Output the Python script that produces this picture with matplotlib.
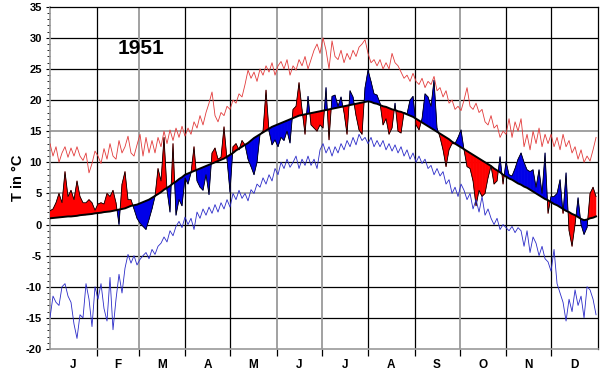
import numpy as np
import matplotlib
matplotlib.use("Agg")
import matplotlib.pyplot as plt
from matplotlib.collections import PolyCollection

# ---------------- data (values every 2nd day, day 0 = 1 Jan) ----------------
year_label = "1951"
month_labels = ["J", "F", "M", "A", "M", "J", "J", "A", "S", "O", "N", "D"]
month_starts = [0, 31, 59, 90, 120, 151, 181, 212, 243, 273, 304, 334, 365]
sample_step = 2

# long-term mean (black line)
mean_t = [
    1.0, 1.05, 1.1, 1.15, 1.2, 1.25, 1.3, 1.3, 1.35, 1.4, 1.5, 1.55, 1.6, 1.65, 1.7, 1.8,
    1.85, 1.9, 2.0, 2.05, 2.1, 2.2, 2.3, 2.4, 2.5, 2.6, 2.8, 3.0, 3.1, 3.2,
    3.4, 3.6, 3.8, 4.0, 4.3, 4.6, 4.9, 5.2, 5.6, 5.9, 6.2, 6.6, 6.9, 7.3, 7.6, 8.0,
    8.2, 8.4, 8.6, 8.8, 9.0, 9.2, 9.4, 9.6, 9.8, 10.0, 10.2, 10.4, 10.6, 10.9, 11.2,
    11.5, 11.9, 12.2, 12.5, 12.8, 13.1, 13.5, 13.9, 14.2, 14.5, 14.8, 15.1, 15.4, 15.7, 15.9,
    16.1, 16.3, 16.5, 16.7, 16.9, 17.1, 17.3, 17.5, 17.6, 17.7, 17.8, 17.9, 18.0, 18.1, 18.2,
    18.3, 18.4, 18.5, 18.6, 18.7, 18.8, 18.9, 19.0, 19.1, 19.2, 19.3, 19.4, 19.5, 19.6, 19.7, 19.8,
    19.7, 19.5, 19.4, 19.2, 19.0, 18.9, 18.7, 18.5, 18.4, 18.2, 18.1, 17.9, 17.7, 17.5, 17.3,
    17.0, 16.7, 16.4, 16.1, 15.8, 15.5, 15.2, 14.9, 14.6, 14.3, 14.0, 13.7, 13.3, 13.0, 12.7,
    12.4, 12.1, 11.8, 11.5, 11.2, 10.9, 10.6, 10.3, 10.0, 9.7, 9.4, 9.0, 8.7, 8.4, 8.0, 7.7,
    7.4, 7.2, 6.9, 6.6, 6.4, 6.1, 5.9, 5.6, 5.3, 5.0, 4.7, 4.4, 4.1, 3.9, 3.6,
    3.3, 3.1, 2.8, 2.5, 2.2, 2.0, 1.7, 1.5, 1.2, 0.9, 0.7, 0.8, 1.0, 1.1, 1.3,
]

# daily mean temperature of the year
actual_t = [
    2.2, 2.5, 3.5, 5.0, 3.5, 8.5, 4.5, 5.5, 4.0, 7.0, 4.5, 3.5, 3.5, 4.0, 3.5, 2.3,
    3.3, 3.5, 3.3, 5.0, 4.5, 5.5, 3.5, 0.0, 6.5, 8.5, 4.0, 4.0, 2.5, 1.0,
    0.2, -0.3, -0.8, 0.8, 2.5, 4.5, 9.0, 7.0, 14.0, 5.5, 2.0, 13.0, 1.5, 4.0, 3.0, 7.5,
    6.5, 8.3, 12.5, 7.0, 6.0, 5.5, 8.0, 4.8, 11.5, 12.3, 10.5, 10.8, 15.7, 10.5, 5.2,
    12.5, 13.0, 12.0, 13.5, 12.8, 10.5, 9.3, 8.0, 10.0, 14.5, 15.0, 21.6, 15.0, 12.8, 13.6,
    12.5, 14.0, 13.5, 15.0, 13.1, 18.5, 19.0, 22.8, 18.5, 14.5, 20.6, 16.0, 15.5, 15.0, 16.0,
    15.5, 22.0, 13.6, 20.6, 20.8, 19.0, 20.5, 18.0, 14.5, 21.5, 20.5, 17.5, 15.2, 14.5, 22.0, 24.8,
    23.0, 21.0, 20.8, 19.5, 16.0, 17.0, 14.5, 15.5, 19.5, 15.0, 14.7, 18.0, 17.8, 20.0, 20.6,
    16.0, 15.2, 17.0, 21.0, 20.5, 19.0, 23.2, 15.5, 14.0, 12.0, 9.3, 12.0, 13.0, 13.0, 14.0,
    15.2, 12.0, 9.3, 9.0, 7.0, 3.0, 5.5, 4.5, 5.0, 7.5, 9.4, 6.5, 7.0, 10.9, 6.5, 10.1,
    8.0, 7.8, 9.0, 10.5, 11.5, 10.0, 8.8, 8.5, 8.8, 6.0, 8.8, 5.0, 11.5, 1.8, 4.5,
    4.5, 5.0, 7.2, 1.8, 8.3, -1.0, -3.5, 0.0, 4.3, 0.0, -1.6, -0.5, 5.0, 6.0, 4.5,
]

# absolute maxima (thin red line)
max_t = [
    13.0, 11.0, 12.5, 10.0, 11.5, 12.5, 10.8, 12.3, 11.0, 12.5, 11.0, 10.3, 11.5, 8.3, 9.8, 11.8,
    11.0, 9.8, 12.2, 10.5, 13.0, 11.0, 10.5, 13.5, 11.5, 12.5, 14.2, 11.5, 11.0, 12.8,
    14.5, 11.0, 14.0, 11.5, 13.5, 11.5, 14.0, 12.5, 15.0, 13.0, 15.2, 13.5, 15.5, 14.0, 15.8, 14.2,
    15.5, 14.5, 16.5, 15.5, 17.5, 16.0, 18.0, 19.5, 21.3, 17.5, 16.5, 18.0, 17.5, 19.0, 18.5,
    20.0, 19.5, 21.0, 20.5, 22.5, 24.8, 23.5, 24.5, 23.0, 25.0, 24.0, 25.5, 24.5, 26.0, 24.0,
    25.5, 26.2, 25.0, 26.5, 24.0, 25.5, 24.8, 26.5, 25.5, 27.0, 25.0, 26.5, 28.0, 29.0, 27.5,
    30.0, 28.0, 25.0, 29.5, 27.0, 26.5, 28.0, 26.0, 27.5, 26.5, 28.0, 27.0, 28.5, 29.0, 29.7, 27.5,
    26.0, 26.5, 25.5, 26.5, 25.0, 26.0, 25.0, 27.5, 26.0, 25.5, 24.5, 23.5, 24.0, 23.0, 24.3,
    23.0, 22.5, 23.5, 22.0, 23.0, 22.5, 23.8, 21.5, 22.0, 20.5, 21.5, 19.5, 20.0, 18.5, 19.0,
    18.3, 20.0, 22.0, 19.0, 18.5, 19.5, 18.0, 18.5, 16.5, 16.0, 17.5, 15.5, 16.0, 14.0, 15.0, 14.5,
    17.0, 14.0, 16.5, 15.0, 17.0, 12.5, 14.5, 12.0, 15.0, 13.0, 15.5, 12.5, 14.5, 13.0, 14.5,
    12.5, 14.0, 12.0, 14.5, 12.5, 13.5, 11.5, 12.5, 10.5, 12.0, 10.0, 11.0, 10.2, 12.0, 14.0,
]

# absolute minima (thin blue line)
min_t = [
    -15.0, -11.5, -12.5, -13.0, -10.0, -9.5, -11.5, -12.5, -16.0, -18.3, -14.5, -15.0, -9.5, -12.0, -16.4, -10.0,
    -12.0, -9.5, -13.5, -15.5, -8.5, -16.9, -12.0, -8.0, -11.0, -7.0, -4.8, -6.2, -5.0, -6.5,
    -5.6, -5.0, -4.5, -5.5, -4.0, -4.8, -3.5, -3.0, -2.0, -2.8, -1.0, -1.8, -0.3, 0.5, -0.5, 1.2,
    0.0, 1.0, -0.8, 2.0, 1.0, 2.5, 1.5, 2.8, 1.8, 3.2, 2.0, 3.5, 2.5, 4.0, 2.8,
    5.0, 4.0, 5.5, 4.2, 5.0, 3.8, 5.6, 5.0, 6.5, 6.0, 7.5, 6.5, 8.0, 7.0, 9.0,
    8.0, 10.0, 9.0, 10.5, 9.2, 10.0, 11.0, 9.0, 10.5, 9.5, 11.0, 9.5, 10.5, 9.0, 12.0,
    13.0, 11.5, 12.5, 11.0, 12.5, 11.5, 13.0, 12.0, 13.5, 12.5, 14.0, 12.8, 14.5, 13.5, 14.0, 13.0,
    14.0, 12.5, 13.5, 12.5, 13.5, 12.0, 13.0, 11.8, 12.8, 11.5, 12.5, 11.0, 12.0, 10.5, 11.5,
    10.0, 11.0, 9.8, 10.5, 9.0, 9.5, 8.0, 9.0, 7.8, 8.5, 6.5, 7.2, 5.0, 6.0, 4.5,
    6.5, 5.5, 4.0, 5.0, 2.5, 4.0, 2.0, 4.5, 1.5, 2.5, 1.0, 0.0, 1.0, -0.8, 0.0, -0.5,
    -1.0, -0.3, -1.3, -0.5, -1.0, -3.5, -1.0, -4.5, -2.0, -3.0, -5.0, -3.5, -5.5, -6.0, -7.5,
    -4.0, -9.5, -11.0, -12.5, -15.5, -12.0, -14.0, -10.5, -13.0, -11.5, -15.0, -10.0, -10.5, -12.0, -14.5,
]

# period (days) in which the original chart swaps the fill colours
inverted_periods = [(169, 353)]

# ---------------- figure ----------------
RED = "#ff0000"
BLUE = "#0000e8"
GREY = "#9a9a9a"

days = np.arange(len(mean_t)) * sample_step
mean_a = np.array(mean_t)
act_a = np.array(actual_t)

fig = plt.figure(figsize=(6, 3.75), dpi=100)
ax = fig.add_axes([50 / 600, 1 - 349 / 375, 548 / 600, (349 - 6.7) / 375])
ax.set_xlim(0, 365.3)
ax.set_ylim(-20, 35)

# grid
grey_h = (15, 5)
for v in range(-15, 35, 5):
    ax.axhline(v, color=GREY if v in grey_h else "black",
               lw=1.3 if v in grey_h else 0.9, zorder=1)
grey_v = (59, 151, 181, 273)
for d in month_starts[1:-1]:
    ax.axvline(d, color=GREY if d in grey_v else "black",
               lw=1.3 if d in grey_v else 0.9, zorder=1)

# coloured areas between the actual and the mean curve
polys, cols = [], []
for k in range(len(days) - 1):
    x0, x1 = days[k], days[k + 1]
    m0, m1 = mean_a[k], mean_a[k + 1]
    a0, a1 = act_a[k], act_a[k + 1]
    d0, d1 = a0 - m0, a1 - m1
    pieces = []
    if d0 * d1 < 0:
        t = d0 / (d0 - d1)
        xc = x0 + t * (x1 - x0)
        yc = m0 + t * (m1 - m0)
        pieces.append(([(x0, m0), (x0, a0), (xc, yc)], d0, (x0 + xc) / 2))
        pieces.append(([(xc, yc), (x1, a1), (x1, m1)], d1, (xc + x1) / 2))
    else:
        pieces.append(([(x0, m0), (x0, a0), (x1, a1), (x1, m1)], d0 + d1, (x0 + x1) / 2))
    for p, s, xm in pieces:
        if s == 0:
            continue
        inv = any(a <= xm < b for a, b in inverted_periods)
        warm = s > 0
        polys.append(p)
        cols.append(RED if warm != inv else BLUE)

pc = PolyCollection(polys, facecolors=cols, edgecolors=cols, linewidths=0.3, zorder=3)
ax.add_collection(pc)

ax.plot(days, act_a, color="black", lw=0.6, zorder=4)
ax.plot(days, mean_a, color="black", lw=1.4, zorder=5)
ax.plot(days, max_t, color="#e23a3a", lw=0.6, zorder=4)
ax.plot(days, min_t, color="#2a2ac8", lw=0.6, zorder=4)

# axes / ticks
font = "Liberation Sans"
ax.set_yticks(np.arange(-20, 36, 5))
ax.set_yticklabels([str(v) for v in range(-20, 36, 5)], fontsize=8,
                   fontweight="bold", family=font)
ax.set_yticks(np.arange(-20, 36, 1), minor=True)
ax.tick_params(axis="y", which="major", direction="out", length=3, width=0.8, pad=3)
ax.tick_params(axis="y", which="minor", direction="out", length=2, width=0.6)

ax.set_xticks(month_starts[1:-1])
ax.set_xticklabels([])
ax.tick_params(axis="x", which="major", direction="out", length=5, width=0.9)
mids = [(month_starts[i] + month_starts[i + 1]) / 2 for i in range(12)]
ax.set_xticks(mids, minor=True)
ax.set_xticklabels(month_labels, minor=True, fontsize=8.5, fontweight="bold", family=font)
ax.tick_params(axis="x", which="minor", length=0, pad=7)

for side in ("top", "right"):
    ax.spines[side].set_color("black")
    ax.spines[side].set_linewidth(0.9)
ax.spines["left"].set_color(GREY)
ax.spines["left"].set_linewidth(1.2)
ax.spines["bottom"].set_color(GREY)
ax.spines["bottom"].set_linewidth(1.2)

fig.text(18 / 600, 1 - 178 / 375, "T in °C", rotation=90, ha="center", va="center",
         fontsize=10.5, fontweight="bold", family=font)
ax.text(0.166, 0.879, year_label, transform=ax.transAxes, ha="center", va="center",
        fontsize=15, fontweight="bold", family=font, zorder=6)

fig.savefig("out.png", dpi=100)
